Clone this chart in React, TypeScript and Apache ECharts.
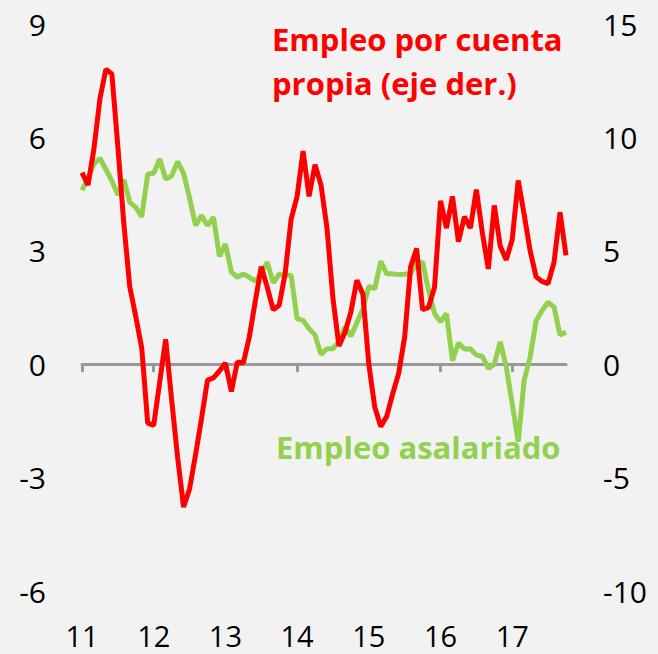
import React, { useEffect, useRef } from "react";
import * as echarts from "echarts";

const yearLabels = ["11", "12", "13", "14", "15", "16", "17"];
const startYear = 2011;
const monthCount = 82;
const months: string[] = [];
for (let i = 0; i < monthCount; i++) {
  const y = startYear + Math.floor(i / 12);
  const m = (i % 12) + 1;
  months.push(`${y}-${m < 10 ? "0" + m : m}`);
}

// Empleo asalariado (left axis)
const asalariado = [
  4.6, 4.9, 5.3, 5.45, 5.15, 4.85, 4.48, 4.88, 4.28, 4.15, 3.9, 5.03,
  5.05, 5.43, 4.9, 4.98, 5.36, 5.05, 4.4, 3.67, 3.93, 3.67, 3.89, 2.85,
  3.18, 2.44, 2.3, 2.39, 2.3, 2.2, 2.4, 2.7, 2.15, 2.38, 2.35, 2.35,
  1.2, 1.16, 0.94, 0.77, 0.26, 0.41, 0.41, 0.6, 0.98, 0.74, 1.1, 1.45,
  2.06, 2.0, 2.72, 2.39, 2.39, 2.37, 2.38, 2.4, 2.66, 2.7, 1.95, 1.34,
  1.12, 1.34, 0.09, 0.56, 0.4, 0.41, 0.24, 0.21, -0.11, 0.0, 0.59, -0.07,
  -1.05, -2.05, -0.42, 0.19, 1.15, 1.42, 1.64, 1.51, 0.77, 0.85,
];

// Empleo por cuenta propia (right axis)
const cuentaPropia = [
  8.45, 7.9, 9.5, 11.7, 13.0, 12.8, 9.6, 6.2, 3.4, 2.1, 0.7, -2.6,
  -2.7, -0.8, 1.1, -1.56, -4.1, -6.3, -5.5, -4.0, -2.4, -0.7, -0.6, -0.3,
  0.05, -1.2, 0.1, 0.05, 1.2, 2.77, 4.3, 3.4, 2.4, 2.6, 4.0, 6.4,
  7.4, 9.4, 7.4, 8.8, 7.9, 6.0, 2.9, 0.8, 1.4, 2.3, 3.7, 3.1,
  0.0, -1.9, -2.75, -2.3, -1.3, -0.4, 1.2, 4.3, 5.1, 2.4, 2.5, 3.4,
  7.2, 6.0, 7.4, 5.4, 6.5, 6.0, 7.7, 5.8, 4.2, 7.0, 5.2, 4.6,
  5.5, 8.1, 6.6, 5.0, 3.85, 3.65, 3.55, 4.5, 6.7, 4.8,
];

const FONT = "'Open Sans', Lato, sans-serif";

export default function App() {
  const ref = useRef<HTMLDivElement>(null);
  useEffect(() => {
    document.body.style.margin = "0";
    if (!ref.current) return;
    const chart = echarts.init(ref.current, null, { renderer: "svg" });
    chart.setOption({
      animation: false,
      backgroundColor: "#f2f2f2",
      grid: { left: 82, right: 92, top: 24, bottom: 63 },
      xAxis: [
        {
          type: "category",
          data: months,
          boundaryGap: false,
          position: "bottom",
          axisLine: { onZero: true, lineStyle: { color: "#999999", width: 3 } },
          axisTick: {
            show: true,
            interval: (i: number) => i % 12 === 0,
            length: 8,
            lineStyle: { color: "#999999", width: 3 },
          },
          axisLabel: { show: false },
          splitLine: { show: false },
        },
        {
          type: "category",
          data: months,
          boundaryGap: false,
          position: "bottom",
          axisLine: { show: false, onZero: false },
          axisTick: { show: false },
          axisLabel: {
            interval: (i: number) => i % 12 === 0,
            formatter: (_v: string, i: number) => yearLabels[Math.floor(i / 12)] ?? "",
            fontSize: 29,
            lineHeight: 26,
            verticalAlign: "middle",
            color: "#000000",
            fontFamily: FONT,
            margin: 44,
          },
          splitLine: { show: false },
        },
      ],
      yAxis: [
        {
          type: "value",
          min: -6,
          max: 9,
          interval: 3,
          axisLine: { show: false },
          axisTick: { show: false },
          splitLine: { show: false },
          axisLabel: { fontSize: 30, color: "#000000", fontFamily: FONT, margin: 36 },
        },
        {
          type: "value",
          min: -10,
          max: 15,
          interval: 5,
          position: "right",
          axisLine: { show: false },
          axisTick: { show: false },
          splitLine: { show: false },
          axisLabel: { fontSize: 30, color: "#000000", fontFamily: FONT, margin: 37 },
        },
      ],
      series: [
        {
          name: "Empleo asalariado",
          type: "line",
          xAxisIndex: 0,
          yAxisIndex: 0,
          data: asalariado,
          showSymbol: false,
          lineStyle: { color: "#92d050", width: 5 },
          itemStyle: { color: "#92d050" },
        },
        {
          name: "Empleo por cuenta propia",
          type: "line",
          xAxisIndex: 0,
          yAxisIndex: 1,
          data: cuentaPropia,
          showSymbol: false,
          lineStyle: { color: "#ff0000", width: 5 },
          itemStyle: { color: "#ff0000" },
        },
      ],
      graphic: [
        {
          type: "text",
          left: 272,
          top: 17,
          style: {
            text: "Empleo por cuenta\npropia (eje der.)",
            fill: "#ff0000",
            font: `bold 31px ${FONT}`,
            lineHeight: 44,
          },
        },
        {
          type: "text",
          left: 276,
          top: 431,
          style: {
            text: "Empleo asalariado",
            fill: "#92d050",
            font: `bold 31px ${FONT}`,
          },
        },
      ],
    });
    return () => chart.dispose();
  }, []);
  return <div ref={ref} style={{ width: 658, height: 654 }} />;
}
